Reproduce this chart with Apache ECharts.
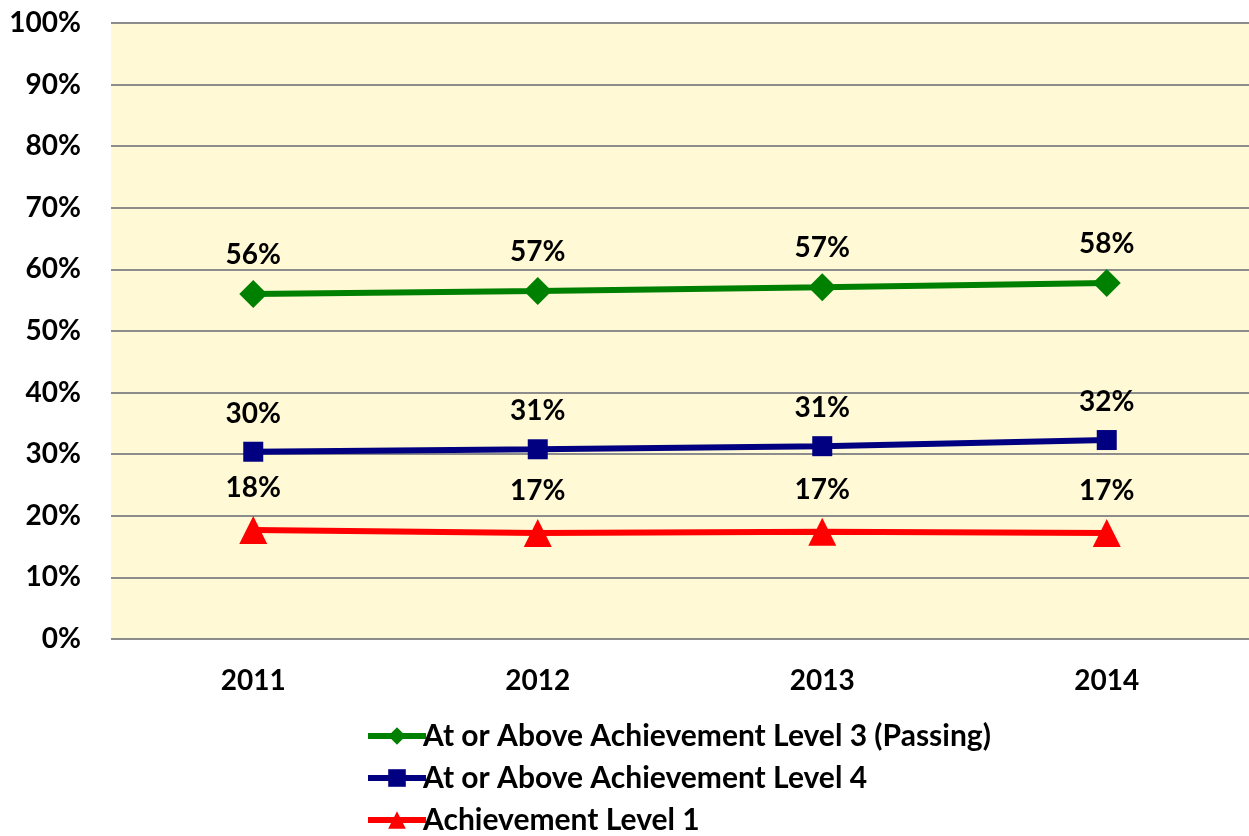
<!DOCTYPE html>
<html>
<head>
<meta charset="utf-8">
<script src="https://cdn.jsdelivr.net/npm/echarts@6/dist/echarts.min.js"></script>
<style>
  html, body { margin: 0; padding: 0; background: #fff; }
  #main { width: 1249px; height: 836px; }
</style>
</head>
<body>
<div id="main"></div>
<script>
// 年份与三条折线的数据（百分比）
var years = ['2011', '2012', '2013', '2014']
var level3Passing = [56.0, 56.5, 57.1, 57.8]
var level4 = [30.4, 30.8, 31.3, 32.3]
var level1 = [17.7, 17.2, 17.4, 17.2]
var yTicks = [0, 10, 20, 30, 40, 50, 60, 70, 80, 90, 100]

var FONT = 'Lato'

function pctLabel(p) {
  return Math.round(p.value) + '%'
}

function lineSeries(name, data, color, symbol, size, dist) {
  return {
    name: name,
    type: 'line',
    data: data,
    symbol: symbol,
    symbolSize: size,
    lineStyle: { color: color, width: 6 },
    itemStyle: { color: color },
    label: {
      show: true,
      position: 'top',
      distance: dist,
      formatter: pctLabel,
      fontFamily: FONT,
      fontWeight: 'bold',
      fontSize: 28,
      color: '#000'
    }
  }
}

var myChart = echarts.init(document.getElementById('main'))
myChart.setOption({
  animation: false,
  backgroundColor: '#fff',
  grid: {
    left: 111,
    right: -6,
    top: 23,
    bottom: 197,
    show: true,
    backgroundColor: '#FFF9D5',
    borderWidth: 0
  },
  xAxis: {
    type: 'category',
    data: years,
    axisLine: { show: false },
    axisTick: { show: false },
    axisLabel: {
      margin: 28,
      fontFamily: FONT,
      fontWeight: 'bold',
      fontSize: 28,
      color: '#000'
    }
  },
  yAxis: {
    type: 'value',
    min: yTicks[0],
    max: yTicks[yTicks.length - 1],
    interval: 10,
    axisLine: { show: false },
    axisTick: { show: false },
    splitLine: { lineStyle: { color: '#8c8c8c', width: 2 } },
    axisLabel: {
      margin: 30,
      formatter: '{value}%',
      fontFamily: FONT,
      fontWeight: 'bold',
      fontSize: 28,
      color: '#000'
    }
  },
  legend: {
    orient: 'vertical',
    left: 360,
    top: 716,
    height: 120,
    itemWidth: 58,
    itemHeight: 22,
    itemGap: 12,
    lineStyle: { width: 6 },
    textStyle: {
      fontFamily: FONT,
      fontWeight: 'bold',
      fontSize: 30,
      color: '#000',
      padding: [0, 0, 0, -8]
    }
  },
  series: [
    lineSeries('At or Above Achievement Level 3 (Passing)', level3Passing, '#008000', 'diamond', 28, 11),
    lineSeries('At or Above Achievement Level 4', level4, '#000080', 'rect', 20, 14),
    lineSeries('Achievement Level 1', level1, '#ff0000', 'triangle', 28, 14)
  ]
})
</script>
</body>
</html>
